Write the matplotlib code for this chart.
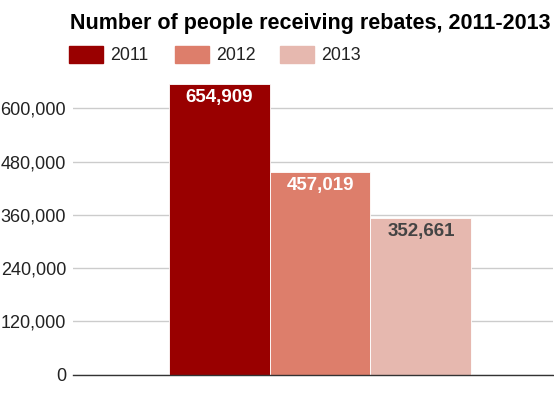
import matplotlib
matplotlib.use("Agg")
import matplotlib.pyplot as plt
from matplotlib.patches import Rectangle

plt.rcParams['font.family'] = ['Liberation Sans', 'DejaVu Sans']

# data
years = ["2011", "2012", "2013"]
people = [654909, 457019, 352661]
colors = ["#990000", "#dd7e6b", "#e6b8af"]
label_colors = ["white", "white", "#444444"]
yticks = [0, 120000, 240000, 360000, 480000, 600000]

fig = plt.figure(figsize=(5.54, 3.98), dpi=100)
ax = fig.add_axes([73 / 554, 23.5 / 398, 480 / 554, 294.5 / 398])

positions = [-1, 0, 1]
bars = ax.bar(positions, people, width=1.0, color=colors,
              edgecolor="white", linewidth=0.6, zorder=3)

for pos, val, lc in zip(positions, people, label_colors):
    ax.annotate(f"{val:,}", xy=(pos, val), xytext=(0, -3.5),
                textcoords="offset points", ha="center", va="top",
                fontsize=13.5, fontweight="bold", color=lc, zorder=4)

ax.set_xlim(-2.45, 2.31)
ax.set_ylim(0, 664000)
ax.set_yticks(yticks)
ax.set_yticklabels([f"{t:,}" for t in yticks], fontsize=13, color="#222222")
ax.set_xticks([])
ax.tick_params(axis="y", length=0, pad=5)
ax.grid(axis="y", color="#cccccc", linewidth=1, zorder=0)
for side in ["top", "right", "left"]:
    ax.spines[side].set_visible(False)
ax.spines["bottom"].set_color("#333333")
ax.spines["bottom"].set_linewidth(1)
ax.spines["bottom"].set_zorder(5)

fig.text(70 / 554, 1 - 23 / 398, "Number of people receiving rebates, 2011-2013",
         fontsize=15.5, fontweight="bold", color="black", ha="left", va="center")

# legend drawn as boxes + labels
box_x = [69, 175, 280]
for bx, yr, c in zip(box_x, years, colors):
    fig.patches.append(Rectangle((bx / 554, 1 - 63 / 398), 34 / 554, 17 / 398,
                                 transform=fig.transFigure, color=c))
    fig.text((bx + 41) / 554, 1 - 55 / 398, yr, fontsize=12.8, color="#222222",
             ha="left", va="center")

fig.savefig("out.png", dpi=100)
